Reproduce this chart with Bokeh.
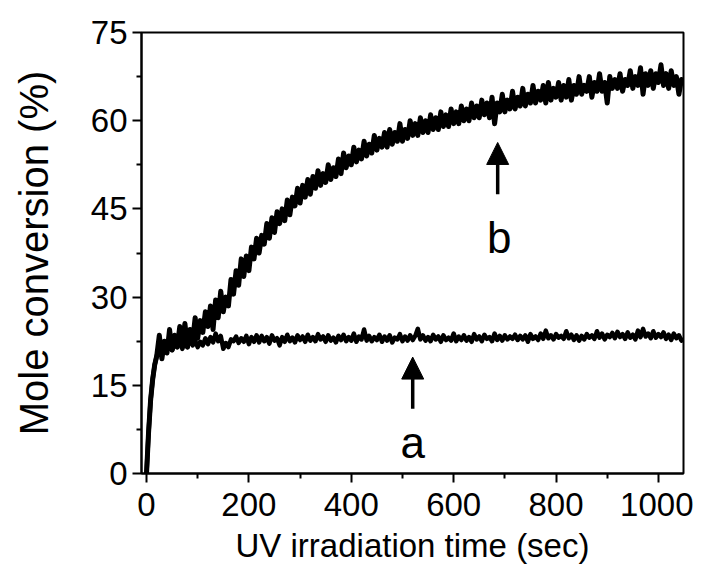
from bokeh.plotting import figure
from bokeh.models import FixedTicker, Range1d, Arrow, NormalHead, Label
from bokeh.embed import file_html
from bokeh.resources import INLINE

# ---- data ----
x_major_ticks = [0, 200, 400, 600, 800, 1000]
x_minor_ticks = [100, 300, 500, 700, 900]
y_major_ticks = [0, 15, 30, 45, 60, 75]
y_minor_ticks = [7.5, 22.5, 37.5, 52.5, 67.5]

# sampling times (s): a few early points, then every 5 s
time_s = [0, 4, 8, 12, 16] + list(range(20, 1050, 5)) + [1049]

conv_b = [0, 7, 12.5, 16, 18.5,
          20, 23.5, 19.5, 22.5, 20.5, 24.5, 21, 23.5, 21.5, 25,
          22, 25.5, 21.5, 24.5, 22.5, 26.5, 23, 26, 24, 27.5,
          25, 28.5, 24.5, 29.5, 26.5, 31, 27.5, 30, 28.5, 33,
          30.5, 34.5, 32, 36.5, 33.5, 37, 34.5, 38.5, 36.5, 40,
          37.5, 40.5, 39, 42.5, 40, 43.5, 41, 44.5, 42.5, 45,
          43, 46.5, 44, 47, 45.5, 48.5, 46, 49, 47, 50,
          47.5, 50.5, 48.5, 51.5, 49, 51, 49.5, 52.5, 50, 52,
          50.5, 53.5, 51, 54.5, 52, 54, 52.5, 55.5, 53, 55,
          53.5, 56.5, 54, 56, 54.5, 57.5, 55, 57, 55.5, 58,
          55.5, 58.5, 56, 58, 56.5, 59.5, 56.5, 58.5, 57, 60,
          57.5, 59.5, 57.5, 60.5, 58, 60, 58, 61, 58.5, 60.5,
          58.5, 61.5, 59, 61, 59, 62, 59.5, 61.5, 59.5, 62.5,
          60, 62, 60, 63, 60.5, 62.5, 60.5, 63.5, 61, 63,
          60.5, 64, 59.5, 63, 61.5, 64.5, 61.5, 63.5, 62, 65,
          62, 64, 62.5, 65.5, 62.5, 64.5, 63, 66, 63, 65,
          63.5, 66, 63, 66.5, 63.5, 65.5, 64, 66.5, 63.5, 66,
          64, 67, 63.5, 66, 64.5, 67.5, 64.5, 66, 65, 67.5,
          64, 66.5, 65, 68, 65, 66.5, 63, 67.5, 65.5, 67,
          65.5, 68, 65, 67, 66, 68.5, 65.5, 67.5, 66, 69,
          64.5, 68, 66, 68.5, 65.5, 68, 66.5, 69.5, 66, 68,
          65.5, 68.5, 66, 67.5, 64.5, 67,
          66]

conv_a = [0, 7, 12.5, 16, 18.5,
          20, 21.5, 20.5, 22, 21, 22.5, 21, 22, 21.5, 22.8,
          21.2, 22.5, 21.5, 23, 21.8, 22.6, 21.5, 22.4, 21.8, 23,
          22, 23.2, 22.3, 23.8, 22.5, 23.4, 21.2, 22.2, 21.5, 22.8,
          22.5, 23.3, 22.2, 23, 22.4, 23.4, 22, 23.2, 22.4, 23.5,
          22.3, 23.4, 22.5, 23.2, 22.1, 23.5, 22.6, 23, 21.8, 23.2,
          22.4, 23.6, 22.5, 23.1, 22.3, 23.5, 22.7, 23.3, 22.4, 23.6,
          22.6, 23.2, 22.5, 23.7, 22.8, 23.3, 22.4, 23.5, 22.6, 23.1,
          22.3, 23.4, 22.7, 23.6, 22.5, 23.2, 22.6, 23.8, 22.4, 23.3,
          22.8, 24.5, 22.6, 23.4, 22.5, 23.2, 22.7, 23.6, 22.4, 23.3,
          22.6, 23.5, 22.3, 23.1, 22.8, 23.7, 22.5, 23.3, 22.6, 23.5,
          22.7, 23.4, 24.6, 22.8, 23.5, 22.6, 23.2, 22.5, 23.6, 22.8,
          23.3, 22.4, 23.5, 22.7, 23.1, 22.6, 23.8, 22.5, 23.3, 22.7,
          23.5, 22.6, 23.2, 22.4, 23.7, 22.8, 23.3, 22.5, 23.6, 22.9,
          23.2, 22.5, 23.8, 22.7, 23.4, 22.6, 23.5, 22.8, 23.3, 22.9,
          23.6, 22.7, 23.4, 22.8, 23.5, 22.4, 23.7, 22.9, 23.3, 22.7,
          23.8, 22.9, 24.3, 23, 23.5, 22.8, 23.7, 23.1, 23.4, 22.9,
          24.2, 23, 23.6, 22.7, 23.5, 22.6, 23.4, 22.8, 23.7, 23.1,
          23.5, 22.9, 24.2, 23.1, 23.8, 22.8, 23.6, 23.2, 23.9, 23,
          24.1, 23.2, 23.7, 22.9, 24, 23.1, 23.6, 22.8, 24.3, 23.2,
          24.6, 23.3, 23.8, 23, 24.2, 23.1, 23.7, 23.2, 24, 22.9,
          23.6, 22.7, 23.8, 23, 23.5, 22.6,
          23]

label_a = "a"
label_b = "b"

# annotation placement (data coordinates)
arrow_a_x, arrow_a_tail, arrow_a_tip = 520, 11, 19.8
arrow_b_x, arrow_b_tail, arrow_b_tip = 686, 47.5, 56.3
text_a_x, text_a_y = 520, 5.2
text_b_x, text_b_y = 689, 40.2

FONT = "Liberation Sans"

p = figure(width=693, height=580, output_backend="svg", toolbar_location=None,
           x_range=Range1d(-9.8, 1049), y_range=Range1d(0, 75),
           min_border_left=141, min_border_right=10, min_border_top=32, min_border_bottom=107)

p.line(time_s, conv_b, line_color="black", line_width=5, line_join="round")
p.line(time_s, conv_a, line_color="black", line_width=4.5, line_join="round")

for ax, ay0, ay1 in [(arrow_a_x, arrow_a_tail, arrow_a_tip), (arrow_b_x, arrow_b_tail, arrow_b_tip)]:
    p.add_layout(Arrow(x_start=ax, y_start=ay0, x_end=ax, y_end=ay1, line_width=3.5,
                       line_color="black",
                       end=NormalHead(size=22, fill_color="black", line_color="black")))

p.add_layout(Label(x=text_a_x, y=text_a_y, text=label_a, text_font=FONT, text_font_size="44px",
                   text_align="center", text_baseline="alphabetic", text_color="black"))
p.add_layout(Label(x=text_b_x, y=text_b_y, text=label_b, text_font=FONT, text_font_size="44px",
                   text_align="center", text_baseline="alphabetic", text_color="black"))

p.xgrid.visible = False
p.ygrid.visible = False
p.outline_line_color = "black"
p.outline_line_width = 2
p.background_fill_color = "white"
p.border_fill_color = "white"

p.xaxis.ticker = FixedTicker(ticks=x_major_ticks, minor_ticks=x_minor_ticks)
p.yaxis.ticker = FixedTicker(ticks=y_major_ticks, minor_ticks=y_minor_ticks)
p.xaxis.axis_label = "UV irradiation time (sec)"
p.yaxis.axis_label = "Mole conversion (%)"

for ax in (p.xaxis, p.yaxis):
    ax.axis_line_color = "black"
    ax.axis_line_width = 2
    ax.major_tick_line_color = "black"
    ax.major_tick_line_width = 2
    ax.minor_tick_line_color = "black"
    ax.minor_tick_line_width = 2
    ax.major_tick_in = 0
    ax.major_tick_out = 9
    ax.minor_tick_in = 0
    ax.minor_tick_out = 5
    ax.major_label_text_font = FONT
    ax.major_label_text_font_size = "33px"
    ax.major_label_text_color = "black"
    ax.axis_label_text_font = FONT
    ax.axis_label_text_font_style = "normal"
    ax.axis_label_text_color = "black"

p.xaxis.major_label_standoff = 10
p.yaxis.major_label_standoff = 5
p.xaxis.axis_label_text_font_size = "33px"
p.yaxis.axis_label_text_font_size = "40px"
p.xaxis.axis_label_standoff = 8
p.yaxis.axis_label_standoff = 32

open("out.html", "w").write(file_html(p, INLINE))
